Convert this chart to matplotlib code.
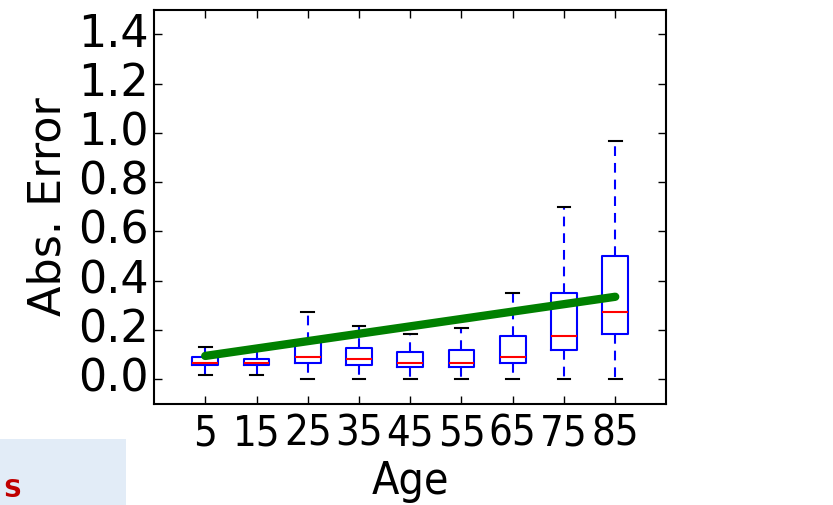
import matplotlib
matplotlib.use("Agg")
import matplotlib.pyplot as plt
from matplotlib.patches import Rectangle

plt.style.use("classic")

# box statistics per age group
ages = [5, 15, 25, 35, 45, 55, 65, 75, 85]
whis_lo = [0.016, 0.016, 0.0, 0.0, 0.0, 0.0, 0.0, 0.0, 0.0]
q1 = [0.057, 0.057, 0.066, 0.057, 0.049, 0.049, 0.066, 0.118, 0.184]
medians = [0.065, 0.066, 0.090, 0.082, 0.066, 0.066, 0.090, 0.174, 0.274]
q3 = [0.092, 0.084, 0.150, 0.126, 0.109, 0.118, 0.176, 0.350, 0.500]
whis_hi = [0.132, 0.126, 0.274, 0.215, 0.184, 0.207, 0.349, 0.699, 0.965]

# green trend line end points
trend_x = [5, 85]
trend_y = [0.095, 0.335]

y_ticks = [0.0, 0.2, 0.4, 0.6, 0.8, 1.0, 1.2, 1.4]

stats = []
for lo, a, m, b, hi in zip(whis_lo, q1, medians, q3, whis_hi):
    stats.append(dict(whislo=lo, q1=a, med=m, q3=b, whishi=hi, fliers=[]))

fig = plt.figure(figsize=(8.33, 5.05), dpi=100, facecolor="white")
ax = fig.add_axes([0.1849, 0.2, 0.6152, 0.781])

ax.bxp(stats, positions=ages, widths=5,
       boxprops=dict(color="b", linewidth=1.5),
       medianprops=dict(color="r", linewidth=1.5),
       whiskerprops=dict(color="b", linestyle=(0, (7, 5)), linewidth=1.5),
       capprops=dict(color="k", linewidth=1.5))

ax.plot(trend_x, trend_y, color="green", linewidth=6, solid_capstyle="round")

ax.set_xlim(-5, 95)
ax.set_ylim(-0.1, 1.5)
ax.set_xticks(ages)
ax.set_xticklabels([str(a) for a in ages], fontsize=30, fontstretch="condensed")
ax.set_yticks(y_ticks)
ax.set_yticklabels(["%.1f" % v for v in y_ticks], fontsize=32)
ax.tick_params(length=6, width=1, direction="in", top=True, right=True)
ax.tick_params(axis="x", pad=6)
for s in ax.spines.values():
    s.set_linewidth(1.5)

ax.set_xlabel("Age", fontsize=32, fontstretch="condensed", labelpad=4)
ax.set_ylabel("Abs. Error", fontsize=32, labelpad=6)

# slide remnant at the bottom left
fig.patches.append(Rectangle((0, 0), 0.151, 0.131, transform=fig.transFigure,
                             facecolor="#e2ecf7", edgecolor="none"))
fig.text(0.004, 0.006, "S", color="#c00000", fontsize=18, fontweight="bold",
         va="bottom", ha="left")

fig.savefig("out.png", dpi=100, facecolor="white")
